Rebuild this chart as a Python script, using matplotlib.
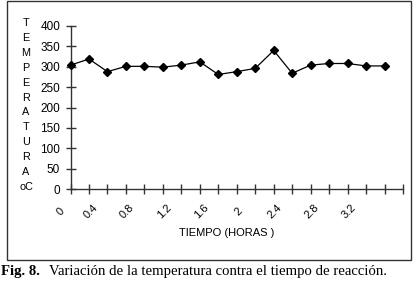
import numpy as np
import matplotlib
matplotlib.use("Agg")
import matplotlib.pyplot as plt
import matplotlib.transforms as mtransforms
from matplotlib.patches import Rectangle

# data
temperatura = [304, 319, 288, 301, 301, 299, 304, 312, 281, 288,
               296, 340, 284, 304, 308, 308, 302, 302]
etiquetas = ["0", "0.4", "0.8", "1.2", "1.6", "2", "2.4", "2.8", "3.2"]
y_ticks = [0, 50, 100, 150, 200, 250, 300, 350, 400]
y_letras = ["T", "E", "M", "P", "E", "R", "A", "T", "U", "R", "A", "oC"]

W, H = 413, 283
fig = plt.figure(figsize=(W / 100, H / 100), dpi=100)
plt.rcParams['font.family'] = ['Liberation Sans', 'DejaVu Sans']

# outer frame around the chart
fig.patches.append(Rectangle((7 / W, 1 - 260 / H), 404 / W, 259 / H,
                             transform=fig.transFigure, fill=False,
                             edgecolor='#333333', linewidth=1.0))

ax = fig.add_axes([70.5 / W, 1 - 189 / H, (403 - 70.5) / W, (189 - 26) / H])
x = np.arange(len(temperatura))
ax.plot(x, temperatura, color='black', linewidth=0.9, marker='D',
        markersize=4.5, markerfacecolor='black', markeredgecolor='black',
        clip_on=False, zorder=5)

ax.set_xlim(0, 18)
ax.set_ylim(0, 400)
for s in ['top', 'right']:
    ax.spines[s].set_visible(False)
for s in ['left', 'bottom']:
    ax.spines[s].set_color('#333333')
    ax.spines[s].set_linewidth(1.0)

ax.set_yticks(y_ticks)
ax.set_yticklabels([str(v) for v in y_ticks], fontsize=8.5)
ax.tick_params(axis='y', direction='inout', length=7, width=1.0,
               color='#333333', pad=4)

ax.set_xticks(np.arange(0, 17, 2))
ax.set_xticklabels(etiquetas, fontsize=8, rotation=45, ha='center',
                   va='center', rotation_mode='anchor')
ax.set_xticks(np.arange(0, 19), minor=True)
ax.tick_params(axis='x', which='both', direction='inout', length=7,
               width=1.0, color='#333333', pad=12.5)

# shift the category labels left like the original
for i, lab in enumerate(ax.get_xticklabels()):
    dx = -10 if i == 0 else -17
    lab.set_transform(lab.get_transform() +
                      mtransforms.ScaledTranslation(dx / 100, 0, fig.dpi_scale_trans))

# vertical stacked y label
y0, y1 = 23, 187
for i, letra in enumerate(y_letras):
    yy = y0 + (y1 - y0) * i / (len(y_letras) - 1)
    fig.text(26 / W, 1 - yy / H, letra, fontsize=7.8, ha='center', va='center')

fig.text(227 / W, 1 - 233 / H, "TIEMPO (HORAS )", fontsize=8,
         ha='center', va='center')

fig.text(1 / W, 1 - 272 / H, "Fig. 8.", fontsize=10.6, fontweight='bold',
         family='Liberation Serif', ha='left', va='center')
fig.text(49 / W, 1 - 272 / H, "Variación de la temperatura contra el tiempo de reacción.",
         fontsize=10.6, family='Liberation Serif', ha='left', va='center')

fig.savefig("out.png", dpi=100)
